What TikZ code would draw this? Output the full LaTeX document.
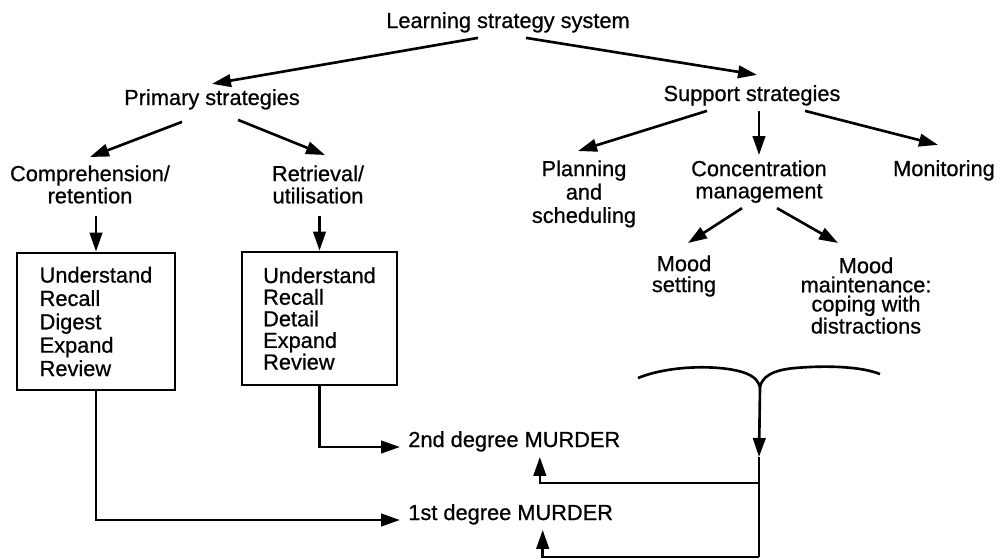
\documentclass[tikz,border=0pt]{standalone}
\usepackage{fontspec}
\setmainfont{Liberation Sans}[FakeBold=0.7]
\usepackage{tikz}
\usetikzlibrary{arrows.meta,positioning,calc}

\begin{document}
\begin{tikzpicture}[x=0.2mm, y=-0.2mm, >={Triangle[length=3.8mm,width=2.5mm]},
    txt/.style={inner sep=1mm, align=center, font=\fontsize{12.4}{12.6}\selectfont},
    stepbox/.style={draw, line width=1.6pt, align=left, inner sep=0pt},
    link/.style={->, line width=1.5pt},
    wire/.style={line width=1.5pt}]
    \useasboundingbox (0,0) rectangle (1002,559);

    % top level
    \node [txt, anchor=base] (sys) at (508,28) {Learning strategy system};
    \node [txt, anchor=base] (prim) at (212,105) {Primary strategies};
    \node [txt, anchor=base] (supp) at (752,101) {Support strategies};

    % primary branch
    \node [txt, anchor=north] (comp) at (90,160) {Comprehension/\\retention};
    \node [txt, anchor=north] (retr) at (318,160) {Retrieval/\\utilisation};
    \node [stepbox, minimum width=31.6mm, minimum height=27.4mm, font=\fontsize{12.4}{13.3}\selectfont] (box1) at (96,321.5) {Understand\\Recall\\Digest\\Expand\\Review};
    \node [stepbox, minimum width=31mm, minimum height=26.6mm, font=\fontsize{12.4}{12.3}\selectfont] (box2) at (319.5,318.5) {Understand\\Recall\\Detail\\Expand\\Review};

    % support branch
    \node [txt, anchor=north, font=\fontsize{12.4}{13.3}\selectfont] (plan) at (584,155) {Planning\\and\\scheduling};
    \node [txt, anchor=north] (conc) at (759,155) {Concentration\\management};
    \node [txt, anchor=base] (moni) at (944,176) {Monitoring};
    \node [txt, anchor=north, font=\fontsize{12.4}{11.9}\selectfont] (setg) at (684,250) {Mood\\setting};
    \node [txt, anchor=north, font=\fontsize{12.4}{10.9}\selectfont] (main) at (866,252) {Mood\\maintenance:\\coping with\\distractions};

    % outcomes
    \node [txt, anchor=base west, inner xsep=1.6mm] (m2) at (400,447) {2nd degree MURDER};
    \node [txt, anchor=base west, inner xsep=1.6mm] (m1) at (400,520) {1st degree MURDER};

    \coordinate (tip) at (760,387);
    \coordinate (mid) at (759,457);
    \coordinate (j2) at (759,483);
    \coordinate (bot) at (759,557);

    \draw [link] ([xshift=-6mm]sys.south) -- (prim.north);
    \draw [link] ([xshift=3.6mm]sys.south) -- ([xshift=1mm,yshift=1mm]supp.north);
    \draw [link] ([xshift=-6mm,yshift=-1.4mm]prim.south) -- ([yshift=0.6mm]comp.north);
    \draw [link] ([xshift=5.2mm,yshift=-1mm]prim.south) -- ([xshift=1.4mm,yshift=1mm]retr.north);
    \draw [link, shorten <=1.4mm] (box1.north |- comp.south) -- (box1.north);
    \draw [link, shorten <=1.4mm] (box2.north |- retr.south) -- (box2.north);

    \draw [link] ([xshift=-9mm]supp.south) -- ([xshift=-1.2mm,yshift=0.8mm]plan.north);
    \draw [link] (conc.north |- supp.south) -- (conc.north);
    \draw [link] ([xshift=10.6mm]supp.south) -- ([xshift=-1.2mm,yshift=2mm]moni.north);
    \draw [link] ([xshift=-3.4mm]conc.south) -- ([xshift=0.8mm,yshift=1.4mm]setg.north);
    \draw [link] ([xshift=3.6mm]conc.south) -- ([xshift=-5.6mm,yshift=1.8mm]main.north);

    \draw [link] (box2.south) |- (m2.base west);
    \draw [link] (box1.south) |- (m1.base west);

    % brace over the support strategies
    \draw [wire] (638,378) .. controls (662,368) and (700,365) .. (728,369) .. controls (748,372) and (757,377) .. (tip) .. controls (762,377) and (772,370) .. (795,368) .. controls (830,365) and (862,367) .. (880,374);
    \draw [link] (tip) -- (mid);
    \draw [wire] (mid) -- (bot);
    \draw [link] (j2) -| ([xshift=5.1mm]m2.south);
    \draw [link] (bot) -| ([xshift=6.4mm]m1.south);
\end{tikzpicture}
\end{document}
